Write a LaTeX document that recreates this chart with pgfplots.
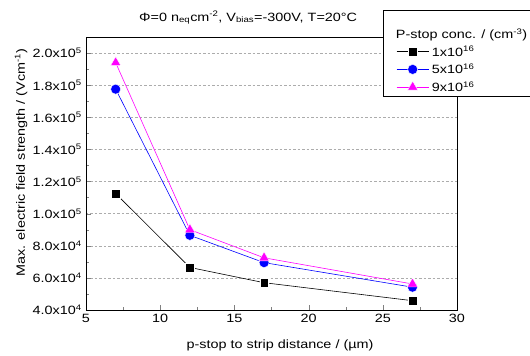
\documentclass[border=0pt]{standalone}
\usepackage{pgfplots}
\pgfplotsset{compat=1.18}
\usepackage{fontspec}
\setmainfont{Liberation Sans}[FakeStretch=1.2]
\definecolor{mymag}{RGB}{255,0,255}
\definecolor{myblue}{RGB}{0,0,255}
\begin{document}
\fontsize{12}{14}\selectfont
\begin{tikzpicture}
\begin{axis}[
  name=ax,
  scale only axis,
  width=371pt, height=273pt,
  xmin=5, xmax=30, ymin=40000, ymax=210000,
  xtick={5,10,15,20,25,30},
  minor x tick num=1,
  ytick={40000,60000,80000,100000,120000,140000,160000,180000,200000},
  yticklabels={4.0x10\textsuperscript{4},6.0x10\textsuperscript{4},8.0x10\textsuperscript{4},1.0x10\textsuperscript{5},1.2x10\textsuperscript{5},1.4x10\textsuperscript{5},1.6x10\textsuperscript{5},1.8x10\textsuperscript{5},2.0x10\textsuperscript{5}},
  minor y tick num=1,
  /pgf/number format/assume math mode=true,
  tick align=inside,
  xtick pos=left, ytick pos=left,
  major tick length=5pt, minor tick length=3pt,
  ymajorgrids,
  major grid style={dash pattern=on 2.5pt off 2pt, gray!65, line width=0.5pt},
  axis line style={line width=0.9pt},
  scaled y ticks=false,
  every axis y label/.style={at={(axis description cs:-0.175,0.54)},anchor=center,rotate=90},
  every axis x label/.style={at={(axis description cs:0.523,-0.128)},anchor=center},
  ylabel={Max. electric field strength / (Vcm\textsuperscript{-1})},
  xlabel={p-stop to strip distance / (µm)},
  title={Φ=0 n\textsubscript{eq}cm\textsuperscript{-2}, V\textsubscript{bias}=-300V, T=20°C},
  title style={at={(axis description cs:0.437,1.048)},anchor=center},
  legend style={at={(axis description cs:0.8005,1.0989)},anchor=north west, draw=black, line width=0.8pt,
    font=\fontsize{12}{14}\selectfont, row sep=3pt, column sep=2pt,
    inner xsep=13pt, inner ysep=2pt, nodes={inner sep=1pt}},
  legend image code/.code={\draw[mark repeat=2,mark phase=2] plot coordinates {(0pt,0pt)(16pt,0pt)(32pt,0pt)};},
  legend cell align=left,
  clip=false,
]
\addlegendimage{empty legend}
\addlegendentry{\hspace*{-36pt}\rule[-3pt]{0pt}{28pt}P-stop conc. / (cm\textsuperscript{-3})}
\addplot[black, line width=0.6pt, mark=square*, mark size=4.3pt, mark options={fill=black, draw=white, line width=0.4pt}] coordinates {(7,112500) (12,66500) (17,57000) (27,45800)};
\addlegendentry{\rule[-3pt]{0pt}{14pt}1x10\textsuperscript{16}}
\addplot[myblue, line width=0.6pt, mark=*, mark size=5pt, mark options={fill=myblue, draw=white, line width=0.4pt}] coordinates {(7,177500) (12,86500) (17,69500) (27,54200)};
\addlegendentry{\rule[-3pt]{0pt}{14pt}5x10\textsuperscript{16}}
\addplot[mymag, line width=0.6pt, mark=triangle*, mark size=6pt, mark options={fill=mymag, draw=white, line width=0.4pt}] coordinates {(7,194000) (12,90000) (17,72500) (27,56200)};
\addlegendentry{\rule[-3pt]{0pt}{14pt}9x10\textsuperscript{16}}
\end{axis}
\pgfresetboundingbox
\path[use as bounding box] ([shift={(-86pt,-46pt)}]ax.south west) rectangle ([shift={(73pt,37pt)}]ax.north east);
\end{tikzpicture}
\end{document}
